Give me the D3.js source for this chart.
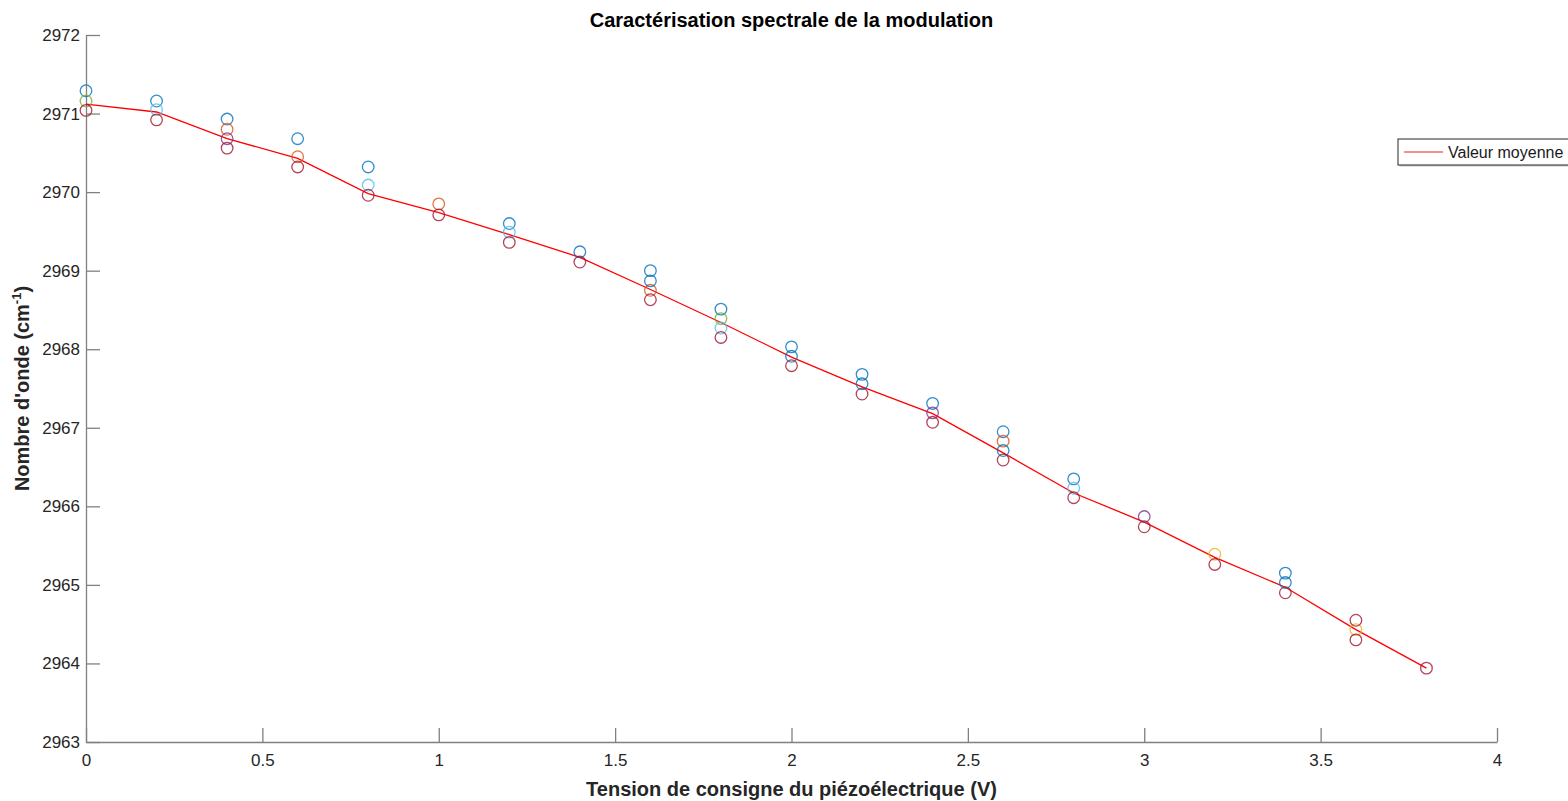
<!DOCTYPE html>
<html>
<head>
<meta charset="utf-8">
<script src="https://cdn.jsdelivr.net/npm/d3@7"></script>
<style>
  body { margin: 0; background: #fff; }
  svg { display: block; font-family: "Liberation Sans", Arial, sans-serif; }
</style>
</head>
<body>
<svg id="chart"></svg>
<script>
// tension (V)
const tensions = [0, 0.2, 0.4, 0.6, 0.8, 1.0, 1.2, 1.4, 1.6, 1.8, 2.0, 2.2, 2.4, 2.6, 2.8, 3.0, 3.2, 3.4, 3.6, 3.8];

// mesures visibles (cm-1), null = point caché / absent
const mesure1 = [2971.29, 2971.16, 2970.93, 2970.68, 2970.32, null, 2969.60, 2969.24, 2969.00, 2968.51, 2968.03, 2967.68, 2967.31, 2966.95, 2966.35, null, null, 2965.15, null, null];
const mesure2 = [null, null, 2970.80, 2970.45, null, 2969.85, null, null, 2968.75, null, null, null, null, 2966.83, null, null, null, null, null, null];
const mesure3 = [null, null, null, null, null, null, null, null, null, null, null, null, null, null, null, null, 2965.39, null, 2964.43, null];
const mesure4 = [null, null, 2970.68, null, null, null, null, null, null, null, null, null, 2967.19, null, null, 2965.87, null, null, null, null];
const mesure5 = [2971.16, null, null, null, null, null, null, null, null, 2968.39, null, null, null, null, null, null, null, null, null, null];
const mesure6 = [null, 2971.05, null, null, 2970.09, null, 2969.49, null, null, 2968.27, null, null, null, null, 2966.23, null, null, null, null, null];
const mesure7 = [2971.04, 2970.92, 2970.56, 2970.32, 2969.96, 2969.71, 2969.36, 2969.11, 2968.63, 2968.15, 2967.79, 2967.43, 2967.07, 2966.59, 2966.11, 2965.74, 2965.26, 2964.90, 2964.30, 2963.94];
const mesure8 = [null, null, null, null, null, null, null, null, 2968.87, null, 2967.91, 2967.56, null, 2966.71, null, null, null, 2965.03, null, null];
const mesure9 = [null, null, null, null, null, null, null, null, null, null, null, null, null, null, null, null, null, null, 2964.55, null];

const valeurMoyenne = [2971.12, 2971.02, 2970.68, 2970.43, 2969.98, 2969.74, 2969.46, 2969.17, 2968.76, 2968.34, 2967.90, 2967.52, 2967.18, 2966.68, 2966.17, 2965.80, 2965.35, 2964.97, 2964.43, 2963.94];

const series = [mesure1, mesure2, mesure3, mesure4, mesure5, mesure6, mesure7, mesure8, mesure9];
const couleurs = ["#0072BD", "#D95319", "#EDB120", "#7E2F8E", "#77AC30", "#4DBEEE", "#A2142F", "#0072BD", "#A2142F"];

const xTicks = [0, 0.5, 1, 1.5, 2, 2.5, 3, 3.5, 4];
const yTicks = [2963, 2964, 2965, 2966, 2967, 2968, 2969, 2970, 2971, 2972];

const width = 1568;
const height = 801;
const mLeft = 86, mRight = 1497, mTop = 35, mBottom = 742;

const svg = d3.select("#chart").attr("width", width).attr("height", height);
svg.append("rect").attr("width", width).attr("height", height).attr("fill", "#fff");

const x = d3.scaleLinear().domain([0, 4]).range([mLeft, mRight]);
const y = d3.scaleLinear().domain([2963, 2972]).range([mBottom, mTop]);

// axes (ticks inward, MATLAB style)
const xAxis = svg.append("g")
    .attr("transform", `translate(0,${mBottom})`)
    .call(d3.axisBottom(x).tickValues(xTicks).tickSizeInner(-14).tickSizeOuter(0)
        .tickFormat(d => String(d)));
const yAxis = svg.append("g")
    .attr("transform", `translate(${mLeft},0)`)
    .call(d3.axisLeft(y).tickValues(yTicks).tickSizeInner(-14).tickSizeOuter(0)
        .tickFormat(d => String(d)));

[xAxis, yAxis].forEach(g => {
    g.select(".domain").attr("stroke", "#808080").attr("stroke-width", 1.3);
    g.selectAll(".tick line").attr("stroke", "#808080").attr("stroke-width", 1.3);
    g.selectAll(".tick text").attr("fill", "#262626").attr("font-size", 17).attr("font-family", "Liberation Sans, Arial, sans-serif");
});
xAxis.selectAll(".tick text").attr("y", 12).attr("dy", "0.71em");
yAxis.selectAll(".tick text").attr("x", -6);

// mean line
const line = d3.line()
    .defined(d => d[1] != null)
    .x(d => x(d[0]))
    .y(d => y(d[1]));

svg.append("path")
    .datum(tensions.map((t, i) => [t, valeurMoyenne[i]]))
    .attr("fill", "none")
    .attr("stroke", "#ff0000")
    .attr("stroke-width", 1.3)
    .attr("d", line);

// circles
series.forEach((s, k) => {
    const pts = tensions.map((t, i) => [t, s[i]]).filter(d => d[1] != null);
    svg.append("g")
        .selectAll("circle")
        .data(pts)
        .enter()
        .append("circle")
        .attr("cx", d => x(d[0]))
        .attr("cy", d => y(d[1]))
        .attr("r", 5.8)
        .attr("fill", "none")
        .attr("stroke", couleurs[k])
        .attr("stroke-width", 1.3)
        .attr("stroke-opacity", 0.8);
});

// title
svg.append("text")
    .attr("x", (mLeft + mRight) / 2)
    .attr("y", 27)
    .attr("text-anchor", "middle")
    .attr("font-size", 20)
    .attr("font-weight", "bold")
    .attr("fill", "#000")
    .text("Caractérisation spectrale de la modulation");

// x label
svg.append("text")
    .attr("x", (mLeft + mRight) / 2)
    .attr("y", 796)
    .attr("text-anchor", "middle")
    .attr("font-size", 20)
    .attr("font-weight", "bold")
    .attr("fill", "#262626")
    .text("Tension de consigne du piézoélectrique (V)");

// y label
const yl = svg.append("text")
    .attr("transform", `translate(29,${(mTop + mBottom) / 2}) rotate(-90)`)
    .attr("text-anchor", "middle")
    .attr("font-size", 20)
    .attr("font-weight", "bold")
    .attr("fill", "#262626");
yl.append("tspan").text("Nombre d'onde (cm");
yl.append("tspan").attr("font-size", 13).attr("dy", -8).text("-1");
yl.append("tspan").attr("dy", 8).text(")");

// legend
const lg = svg.append("g").attr("transform", "translate(1398,139)");
lg.append("rect").attr("x", 1.5).attr("y", 1.5).attr("width", 240).attr("height", 26).attr("fill", "#c8c8c8");
lg.append("rect").attr("width", 240).attr("height", 26).attr("fill", "#fff").attr("stroke", "#262626").attr("stroke-width", 1);
lg.append("line").attr("x1", 6).attr("x2", 45).attr("y1", 13).attr("y2", 13)
    .attr("stroke", "#f26b6b").attr("stroke-width", 1.3);
lg.append("text").attr("x", 50).attr("y", 19).attr("font-size", 16).attr("fill", "#1a1a1a").text("Valeur moyenne");
</script>
</body>
</html>
